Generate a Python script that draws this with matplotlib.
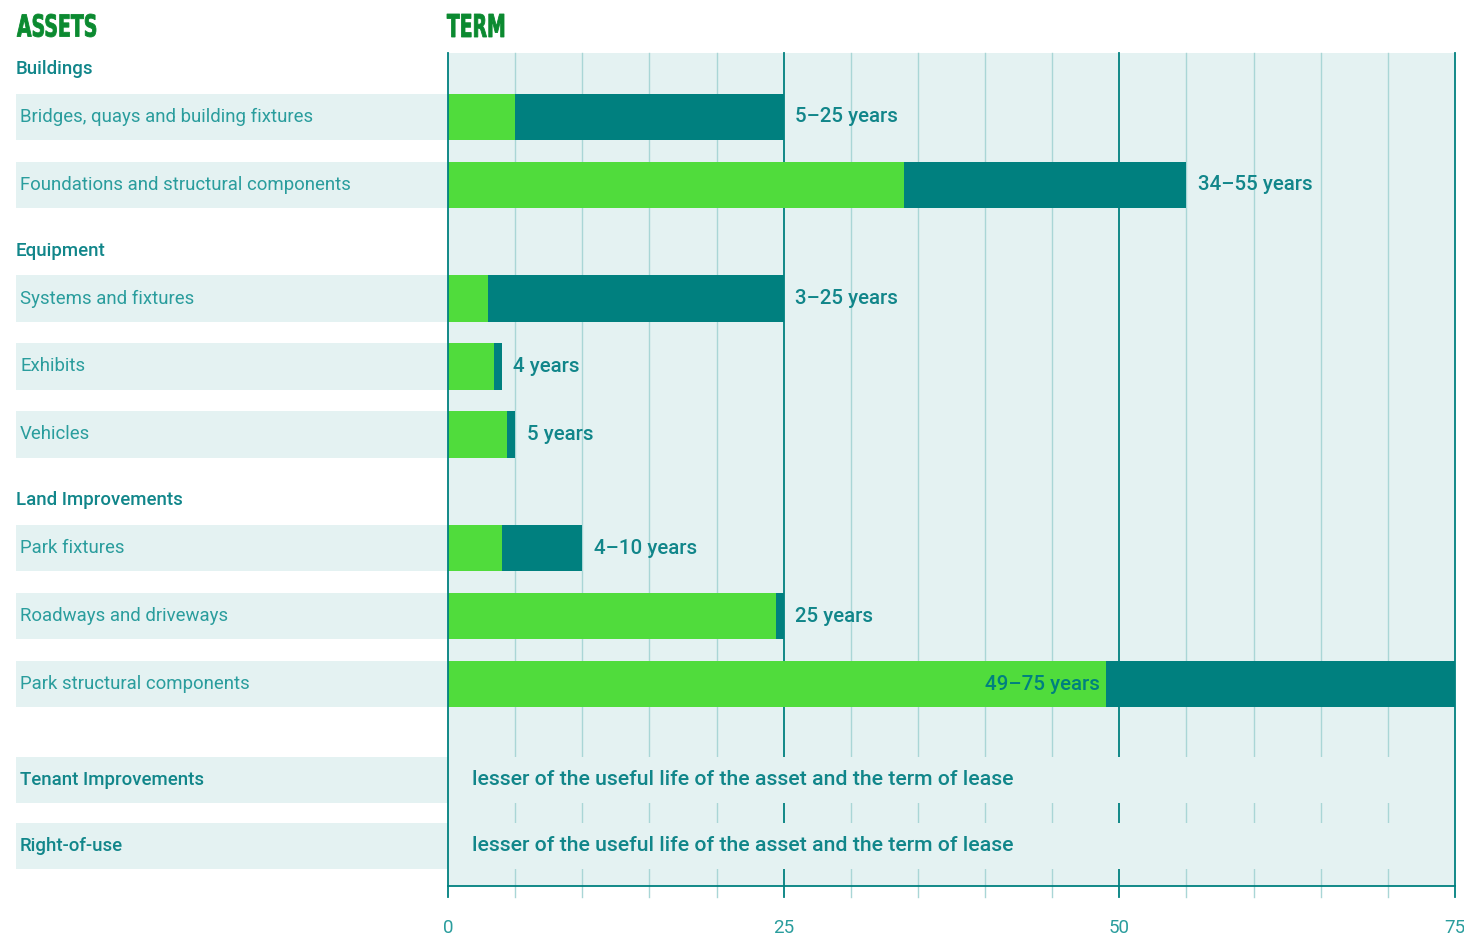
import matplotlib.pyplot as plt
import matplotlib.patches as mpatches
from matplotlib.textpath import TextPath
from matplotlib.font_manager import FontProperties
from matplotlib.transforms import Affine2D, IdentityTransform

# useful-life ranges (years) per asset class
groups = ["Buildings", "Equipment", "Land Improvements"]
group_assets = [
    ["Bridges, quays and building fixtures", "Foundations and structural components"],
    ["Systems and fixtures", "Exhibits", "Vehicles"],
    ["Park fixtures", "Roadways and driveways", "Park structural components"],
]
start_years = [[5, 34], [3, 4, 5], [4, 25, 49]]
end_years = [[25, 55], [25, 4, 5], [10, 25, 75]]

other_assets = ["Tenant Improvements", "Right-of-use"]
other_term = "lesser of the useful life of the asset and the term of lease"

x_ticks = [0, 25, 50, 75]

GREEN = "#50dc3c"
TEAL = "#00807f"
TEXT = "#11868a"
LIGHT_TEXT = "#2a9d9d"
BG = "#e4f2f2"
GRID = "#a9d6d6"
HEAD = "#0b8a30"
FONT = ["Roboto", "DejaVu Sans"]

plt.rcParams['font.family'] = FONT

fig = plt.figure(figsize=(14.64, 9.39), dpi=100)
W, H = 1464, 939
ax = fig.add_axes([16 / W, (H - 886) / H, (1455 - 16) / W, (886 - 53) / H])
xmin = -32.17
ymin, ymax = -0.93, 11.32
ax.set_xlim(xmin, 75)
ax.set_ylim(ymax, ymin)
for s in ax.spines.values():
    s.set_visible(False)
ax.set_yticks([])
ax.set_xticks(x_ticks)
ax.set_xticklabels([str(t) for t in x_ticks])
ax.tick_params(axis='x', length=0, pad=24, labelsize=13.5, labelcolor=LIGHT_TEXT)

bar_h = 0.68
px = (ymax - ymin) / (886 - 53)  # data units per pixel in y

# plot background
ax.add_patch(mpatches.Rectangle((0, ymin), 75, ymax - ymin, color=BG, zorder=0, lw=0))

# grid lines every 5 years, heavier at the labelled ticks
for v in range(0, 80, 5):
    c = TEAL if v in x_ticks else GRID
    lw = 1.3 if v in x_ticks else 1.0
    z = 2.5 if v in (0, 75) else 1
    ax.plot([v, v], [ymin, ymax + 11 * px], color=c, lw=lw, zorder=z, clip_on=False)
ax.plot([0, 75], [ymax, ymax], color=TEAL, lw=1.3, zorder=2.5, clip_on=False)

# asset rows
y = -0.69
for g, name in enumerate(groups):
    if g > 0:
        y += 0.97
    ax.text(xmin, y, name, color=TEXT, fontsize=13.4, fontweight='medium', va='center', ha='left')
    y += 0.7
    for i, asset in enumerate(group_assets[g]):
        if i > 0:
            y += 1
        lo, hi = start_years[g][i], end_years[g][i]
        ax.barh(y, -xmin, left=xmin, height=bar_h, color=BG, lw=0, zorder=1)
        ax.text(xmin + 0.3, y, asset, color=LIGHT_TEXT, fontsize=13.4, va='center', ha='left', zorder=3)
        if lo == hi:
            green_end = hi - 0.6
            label = f"{hi} years"
        else:
            green_end = lo
            label = f"{lo}\u2013{hi} years"
        ax.barh(y, green_end, left=0, height=bar_h, color=GREEN, lw=0, zorder=2)
        ax.barh(y, hi - green_end, left=green_end, height=bar_h, color=TEAL, lw=0, zorder=2)
        if hi >= 75:
            ax.text(lo - 0.45, y, label, color=TEAL, fontsize=14.8, fontweight='medium',
                    va='center', ha='right', zorder=3)
        else:
            ax.text(hi + 0.85, y, label, color=TEXT, fontsize=14.8, fontweight='medium',
                    va='center', ha='left', zorder=3)

# rows without a fixed term
y += 1.41
for j, asset in enumerate(other_assets):
    if j > 0:
        y += 0.97
    ax.barh(y, 75 - xmin, left=xmin, height=bar_h, color=BG, lw=0, zorder=1.5)
    ax.text(xmin + 0.3, y, asset, color=TEXT, fontsize=13.4, fontweight='medium', va='center', ha='left', zorder=3)
    ax.text(1.8, y, other_term, color=TEXT, fontsize=15.3, fontweight='medium', va='center', ha='left', zorder=3)


# column headers: heavy condensed lettering, squeezed horizontally
def header(text, x_left, width, top, cap):
    prop = FontProperties(family="DejaVu Sans", weight="heavy")
    tp = TextPath((0, 0), text, size=100, prop=prop)
    ext = tp.get_extents()
    sx = width / ext.width
    sy = cap / ext.height
    tr = Affine2D().translate(-ext.x0, -ext.y0).scale(sx, sy).translate(x_left, H - top - cap)
    fig.add_artist(mpatches.PathPatch(tr.transform_path(tp), color=HEAD, lw=0.6,
                                      transform=IdentityTransform()))


header("ASSETS", 17, 79, 14, 23)
header("TERM", 447, 57, 14, 23)

fig.savefig("out.png", dpi=100, facecolor="white")
